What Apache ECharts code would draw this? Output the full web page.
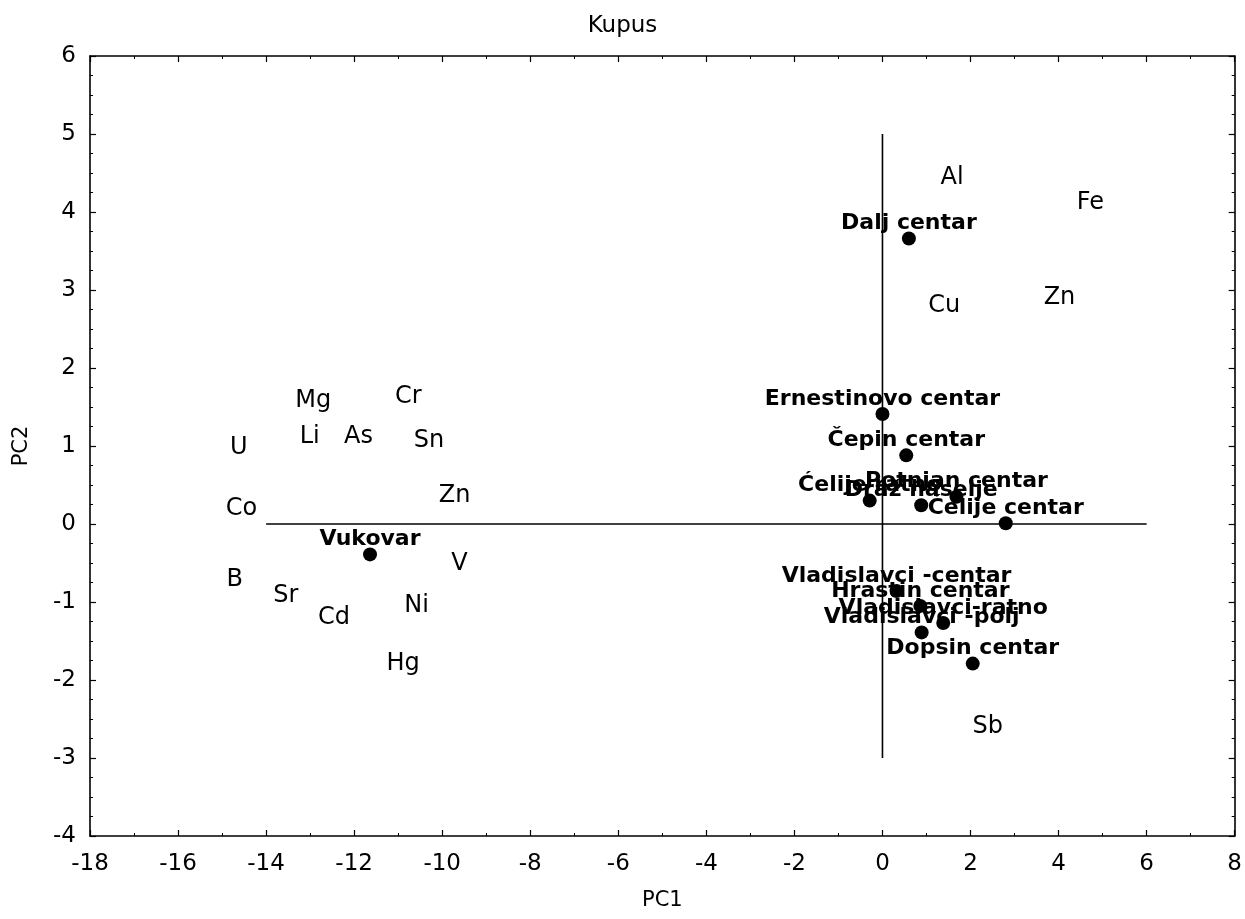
<!DOCTYPE html>
<html>
<head>
<meta charset="utf-8">
<script src="https://cdn.jsdelivr.net/npm/echarts@6/dist/echarts.min.js"></script>
<style>html,body{margin:0;padding:0;background:#fff}#chart{width:1245px;height:919px}</style>
</head>
<body>
<div id="chart"></div>
<script>
// Sites (scores) – drawn as dots with bold labels
var siteNames = ['Dalj centar','Ernestinovo centar','Čepin centar','Ćelije ratno','Draž naselje','Potnjan centar','Ćelije centar','Vladislavci -centar','Hrastin centar','Vladislavci-ratno','Vladislavci -polj','Dopsin centar','Vukovar'];
var siteX = [0.60, 0.00, 0.54, -0.29, 0.88, 1.68, 2.80, 0.32, 0.86, 1.38, 0.89, 2.05, -11.64];
var siteY = [3.66, 1.41, 0.88, 0.30, 0.24, 0.35, 0.01, -0.86, -1.05, -1.27, -1.39, -1.79, -0.39];

// Variables (loadings) – drawn as text only
var varNames = ['Al','Fe','Cu','Zn','Mg','Cr','U','Li','As','Sn','Zn','Co','V','B','Sr','Cd','Ni','Hg','Sb'];
var varX = [1.58, 4.72, 1.40, 4.02, -12.93, -10.77, -14.62, -13.01, -11.90, -10.30, -9.72, -14.56, -9.61, -14.71, -13.55, -12.46, -10.58, -10.89, 2.39];
var varY = [4.46, 4.14, 2.82, 2.93, 1.61, 1.66, 1.00, 1.14, 1.14, 1.09, 0.39, 0.22, -0.49, -0.69, -0.90, -1.18, -1.02, -1.77, -2.57];

// Reference axes lines
var hLineX = [-14, 6];
var hLineY = [0, 0];
var vLineX = [0, 0];
var vLineY = [5, -3];

var titleText = 'Kupus';
var xName = 'PC1';
var yName = 'PC2';

var FONT = 'DejaVu Sans';

function pairs(xs, ys, names) {
  return xs.map(function (x, i) { return names ? {value: [x, ys[i]], name: names[i]} : [x, ys[i]]; });
}

var chart = echarts.init(document.getElementById('chart'), null, {renderer: 'canvas'});

var axisCommon = {
  axisLine: {show: true, onZero: false, lineStyle: {color: '#000', width: 1.6}},
  axisTick: {show: true, inside: true, length: 6, lineStyle: {color: '#000', width: 1.2}},
  minorTick: {show: true, length: 3, lineStyle: {color: '#000', width: 1}},
  splitLine: {show: false}
};

chart.setOption({
  animation: false,
  backgroundColor: '#fff',
  title: {
    text: titleText, left: 'center', top: 10,
    textStyle: {fontFamily: FONT, fontSize: 23, fontWeight: 'normal', color: '#000'}
  },
  grid: {left: 90, right: 10, top: 56, bottom: 83, containLabel: false},
  xAxis: [
    Object.assign({}, axisCommon, {
      type: 'value', position: 'bottom', min: -18, max: 8, interval: 2,
      minorTick: Object.assign({}, axisCommon.minorTick, {splitNumber: 2}),
      axisLabel: {fontFamily: FONT, fontSize: 23, color: '#000', margin: 17},
      name: xName, nameLocation: 'middle', nameGap: 54,
      nameTextStyle: {fontFamily: FONT, fontSize: 21, color: '#000'}
    }),
    Object.assign({}, axisCommon, {
      type: 'value', position: 'top', min: -18, max: 8, interval: 2,
      minorTick: Object.assign({}, axisCommon.minorTick, {splitNumber: 2}),
      axisLabel: {show: false}
    })
  ],
  yAxis: [
    Object.assign({}, axisCommon, {
      type: 'value', position: 'left', min: -4, max: 6, interval: 1,
      minorTick: Object.assign({}, axisCommon.minorTick, {splitNumber: 4}),
      axisLabel: {fontFamily: FONT, fontSize: 23, color: '#000', margin: 14},
      name: yName, nameLocation: 'middle', nameGap: 58, nameRotate: 90,
      nameTextStyle: {fontFamily: FONT, fontSize: 21, color: '#000'}
    }),
    Object.assign({}, axisCommon, {
      type: 'value', position: 'right', min: -4, max: 6, interval: 1,
      minorTick: Object.assign({}, axisCommon.minorTick, {splitNumber: 4}),
      axisLabel: {show: false}
    })
  ],
  series: [
    {
      type: 'line', data: pairs(hLineX, hLineY), symbol: 'none', silent: true, z: 1,
      lineStyle: {color: '#000', width: 1.6}
    },
    {
      type: 'line', data: pairs(vLineX, vLineY), symbol: 'none', silent: true, z: 1,
      lineStyle: {color: '#000', width: 1.6}
    },
    {
      type: 'scatter', data: pairs(varX, varY, varNames), symbol: 'circle', symbolSize: 1, z: 2,
      itemStyle: {color: 'rgba(0,0,0,0)', opacity: 1},
      label: {show: true, position: 'inside', offset: [0, 2], formatter: '{b}', fontFamily: FONT, fontSize: 24, color: '#000'},
      emphasis: {disabled: true}
    },
    {
      type: 'scatter', data: pairs(siteX, siteY, siteNames), symbol: 'circle', symbolSize: 14, z: 3,
      itemStyle: {color: '#000', opacity: 1},
      label: {show: true, position: 'top', distance: -3, formatter: '{b}', fontFamily: FONT, fontSize: 22, fontWeight: 'bold', color: '#000'},
      labelLayout: {hideOverlap: false},
      emphasis: {disabled: true}
    }
  ]
});
</script>
</body>
</html>
